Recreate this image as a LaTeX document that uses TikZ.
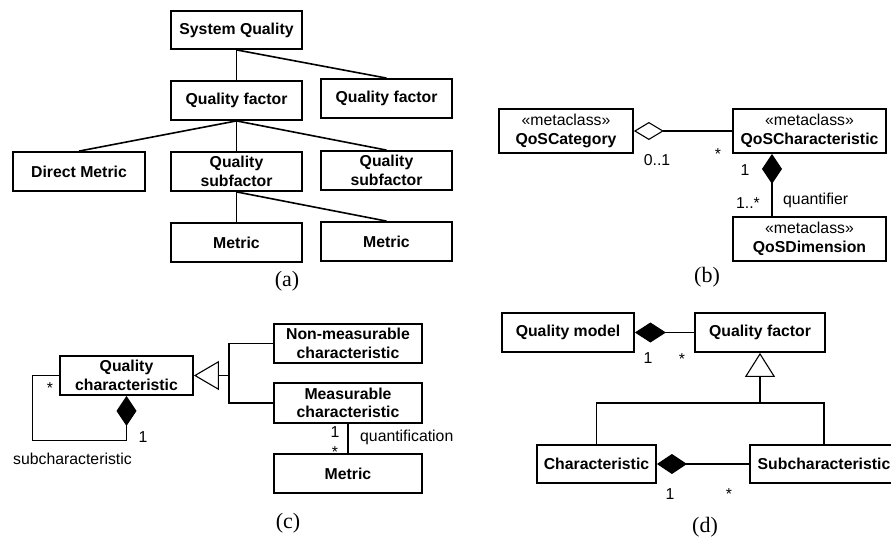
\documentclass[tikz,border=0pt]{standalone}
\usepackage{fontspec}
\setmainfont{Liberation Sans}
\newfontfamily\tnr{Liberation Serif}
\usetikzlibrary{arrows.meta}
\begin{document}
\begin{tikzpicture}[x=1pt,y=-1pt,
  box/.style={draw, line width=1.8pt, inner sep=0pt, align=center, font=\fontsize{15.8}{18.5}\selectfont\bfseries},
  sz/.style 2 args={minimum width=#1pt, minimum height=#2pt},
  conn/.style={line width=1.6pt},
  uml/.style={line width=1.1pt},
  lbl/.style={inner sep=0pt, font=\fontsize{15.8}{18.5}\selectfont},
  sublbl/.style={inner sep=0pt, font=\tnr\fontsize{22}{24}\selectfont},
  fdia/.style={{Diamond[length=30pt,width=20pt]}-},
  odia/.style={{Diamond[open,length=30pt,width=18pt]}-},
  gen/.style 2 args={{Triangle[open,length=#1pt,width=#2pt]}-}
]
\useasboundingbox (0,0) rectangle (891,538);
% ---------- (a)
\node[box,sz={131}{38}] (sq)  at (236.5,30)   {System Quality};
\node[box,sz={131}{39}] (qf1) at (236.5,100.5){Quality factor};
\node[box,sz={131}{39}] (qf2) at (386.5,98.5) {Quality factor};
\node[box,sz={132}{39}] (dm)  at (79,171.5)   {Direct Metric};
\node[box,sz={131}{39}] (qs1) at (236.5,171.5){Quality\\subfactor};
\node[box,sz={131}{39}] (qs2) at (386.5,170.5){Quality\\subfactor};
\node[box,sz={131}{39}] (m1)  at (236.5,242.5){Metric};
\node[box,sz={131}{39}] (m2)  at (386.5,241.5){Metric};
\draw[conn] (sq.south) -- (qf1.north);
\draw[conn] (sq.south) -- (qf2.north);
\draw[conn] (qf1.south) -- (dm.north);
\draw[conn] (qf1.south) -- (qs1.north);
\draw[conn] (qf1.south) -- (qs2.north);
\draw[conn] (qs1.south) -- (m1.north);
\draw[conn] (qs1.south) -- (m2.north);
\node[sublbl] (la) at (287,281) {(a)};
% ---------- (b)
\node[box,sz={134}{44}] (cat) at (566,131)   {{\mdseries «metaclass»}\\QoSCategory};
\node[box,sz={153}{44}] (chr) at (809.5,131) {{\mdseries «metaclass»}\\QoSCharacteristic};
\node[box,sz={153}{44}] (dim) at (809.5,239) {{\mdseries «metaclass»}\\QoSDimension};
\draw[uml,odia] (cat.east) -- (chr.west);
\draw[uml,fdia] ([xshift=-37.5pt]chr.south) -- ([xshift=-37.5pt]dim.north);
\node[lbl] (b01) at (657,160) {0..1};
\node[lbl] (bs1) at (718,154.5) {*};
\node[lbl] (b1)  at (745,170) {1};
\node[lbl] (b1s) at (748,203) {1..*};
\node[lbl,anchor=west] (bq) at (783,200) {quantifier};
\node[sublbl] (lb) at (707,277) {(b)};
% ---------- (c)
\node[box,sz={133}{39}] (qc) at (126.5,375.5) {Quality\\characteristic};
\node[box,sz={148}{39}] (nm) at (348,343.5)   {Non-measurable\\characteristic};
\node[box,sz={148}{40}] (ms) at (348,403)     {Measurable\\characteristic};
\node[box,sz={148}{39}] (mt) at (348,473.5)   {Metric};
\coordinate (jc) at (229,375.5);
\draw[uml,gen={25}{29}] (qc.east) -- (jc);
\draw[uml] (nm.west) -| (jc) |- (ms.west);
\draw[uml] (ms.south) -- (mt.north);
\draw[uml,fdia] (qc.south) -- ++(0,45) -| ([xshift=-27pt]qc.west) -- (qc.west);
\node[lbl] (cs1) at (50,388.5) {*};
\node[lbl] (c11) at (143,437) {1};
\node[lbl,anchor=west] (csub) at (13,459) {subcharacteristic};
\node[lbl] (c12) at (335,432) {1};
\node[lbl] (cs2) at (335,452.5) {*};
\node[lbl,anchor=west] (cq) at (360,437) {quantification};
\node[sublbl] (lc) at (288,523) {(c)};
% ---------- (d)
\node[box,sz={132}{39}] (qm)  at (568,332.5) {Quality model};
\node[box,sz={130}{39}] (qfd) at (760,332.5) {Quality factor};
\node[box,sz={119}{38}] (ch)  at (596.5,464) {Characteristic};
\node[box,sz={148}{38}] (sc)  at (824,464)   {Subcharacteristic};
\draw[uml,{Diamond[length=31pt,width=20pt]}-] (qm.east) -- (qfd.west);
\coordinate (jd) at (760,403);
\draw[uml,gen={24}{30}] (qfd.south) -- (jd);
\draw[uml] (ch.north) |- (jd) -| (sc.north);
\draw[uml,fdia] (ch.east) -- (sc.west);
\node[lbl] (d11) at (648,358) {1};
\node[lbl] (ds1) at (682,359.5) {*};
\node[lbl] (d12) at (670,494) {1};
\node[lbl] (ds2) at (729,494.5) {*};
\node[sublbl] (ld) at (705,527) {(d)};
\end{tikzpicture}
\end{document}
